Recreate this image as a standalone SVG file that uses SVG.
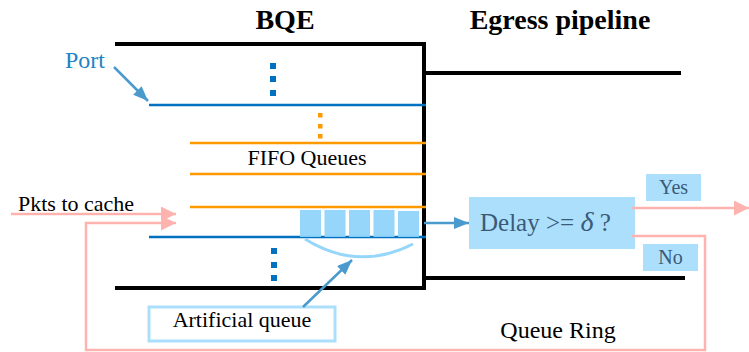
<svg xmlns="http://www.w3.org/2000/svg" width="749" height="352" viewBox="0 0 749 352">
  <style>
    text { font-family: "Liberation Serif", "Times New Roman", serif; }
    .title { font-size: 28px; font-weight: bold; fill: #000; text-anchor: middle; }
    .wall { stroke: #000; stroke-width: 4; fill: none; stroke-linecap: square; }
    .port { stroke: #0070C0; stroke-width: 2.5; fill: none; }
    .fifo { stroke: #FF9900; stroke-width: 2.5; fill: none; }
    .pink { stroke: #FFB3AE; stroke-width: 2.5; fill: none; }
    .pointer { stroke: #4A9ACD; stroke-width: 2.5; fill: none; }
    .pkt { fill: #8DD3FA; }
    .badge { fill: #ACDFFC; }
    .label { fill: #3A5A78; }
    .dot-blue { fill: #0070C0; }
    .dot-orange { fill: #FF9900; }
  </style>
  <defs>
    <marker id="head-pink" markerUnits="userSpaceOnUse" markerWidth="16" markerHeight="16" refX="15" refY="7.5" orient="auto">
      <path d="M0,0 L15,7.5 L0,15 Z" fill="#FFB3AE"/>
    </marker>
    <marker id="head-blue" markerUnits="userSpaceOnUse" markerWidth="16" markerHeight="14" refX="15" refY="6" orient="auto">
      <path d="M0,0 L15,6 L0,12 Z" fill="#4A9ACD"/>
    </marker>
  </defs>

  <!-- headings -->
  <text class="title" x="285" y="29">BQE</text>
  <text class="title" x="560" y="29">Egress pipeline</text>

  <!-- BQE enclosure and egress walls -->
  <g id="bqe-frame">
    <path class="wall" d="M117,44 H424 V288 H117"/>
    <line class="wall" x1="424" y1="73" x2="679" y2="73"/>
    <line class="wall" x1="424" y1="278" x2="683" y2="278"/>
  </g>

  <!-- port lines and queue lines -->
  <g id="port-lines">
    <line class="port" x1="149" y1="105" x2="426" y2="105"/>
    <line class="port" x1="149" y1="237" x2="426" y2="237"/>
    <rect class="dot-blue" x="270" y="63" width="6" height="6"/>
    <rect class="dot-blue" x="270" y="76" width="6" height="6"/>
    <rect class="dot-blue" x="270" y="90" width="6" height="6"/>
    <rect class="dot-blue" x="271" y="248" width="6" height="6"/>
    <rect class="dot-blue" x="271" y="262" width="6" height="6"/>
    <rect class="dot-blue" x="271" y="275" width="6" height="6"/>
  </g>

  <g id="fifo-queues">
    <line class="fifo" x1="190" y1="143" x2="426" y2="143"/>
    <line class="fifo" x1="190" y1="174" x2="426" y2="174"/>
    <line class="fifo" x1="190" y1="207" x2="426" y2="207"/>
    <rect class="dot-orange" x="318" y="113" width="4.5" height="4.5"/>
    <rect class="dot-orange" x="318" y="124" width="4.5" height="4.5"/>
    <rect class="dot-orange" x="318" y="134" width="4.5" height="4.5"/>
    <text x="307" y="165" font-size="22" text-anchor="middle" fill="#000">FIFO Queues</text>
  </g>

  <!-- packets waiting in the artificial queue -->
  <g id="artificial-queue-packets" opacity="0.92">
    <rect class="pkt" x="300" y="210" width="21" height="27"/>
    <rect class="pkt" x="324.5" y="210" width="21" height="27"/>
    <rect class="pkt" x="349" y="210" width="21" height="27"/>
    <rect class="pkt" x="373.5" y="210" width="21" height="27"/>
    <rect class="pkt" x="398" y="211" width="21" height="26"/>
    <path d="M305,239 Q358,272 413,244" stroke="#8DD3FA" stroke-width="3" fill="none"/>
  </g>

  <g id="port-label">
    <text x="65" y="68" font-size="24" fill="#2183C4">Port</text>
  </g>

  <g id="pkts-label">
    <text x="18" y="211" font-size="22" fill="#000">Pkts to cache</text>
  </g>

  <g id="artificial-queue-label">
    <rect x="149" y="307" width="186" height="34" fill="none" stroke="#ACDFFC" stroke-width="3"/>
    <text x="242" y="327" font-size="22" text-anchor="middle" fill="#000">Artificial queue</text>
  </g>

  <g id="delay-check">
    <rect class="badge" x="469" y="197" width="166" height="52"/>
    <text class="label" x="480" y="231" font-size="25">Delay &gt;= <tspan font-style="italic" font-size="28">δ</tspan> ?</text>
  </g>

  <g id="yes-label">
    <rect class="badge" x="646" y="174" width="55" height="27"/>
    <text class="label" x="673.5" y="194" font-size="20" text-anchor="middle">Yes</text>
  </g>

  <g id="no-label">
    <rect class="badge" x="643" y="244" width="55" height="27"/>
    <text class="label" x="670.5" y="264" font-size="20" text-anchor="middle">No</text>
  </g>

  <g id="queue-ring-label">
    <text x="558" y="338" font-size="24" text-anchor="middle" fill="#000">Queue Ring</text>
  </g>

  <!-- connectors -->
  <g id="connectors">
    <line class="pointer" x1="114" y1="67" x2="148" y2="101" marker-end="url(#head-blue)"/>
    <line class="pointer" x1="303" y1="307" x2="352" y2="260" marker-end="url(#head-blue)" stroke="#6BAED6"/>
    <line class="pointer" x1="424" y1="223" x2="469" y2="223" marker-end="url(#head-blue)"/>
    <line class="pink" x1="11" y1="214" x2="176" y2="214" marker-end="url(#head-pink)"/>
    <path class="pink" d="M632,236 H705 V350 H86 V223 H176" marker-end="url(#head-pink)"/>
    <line class="pink" x1="632" y1="208" x2="749" y2="208" marker-end="url(#head-pink)"/>
  </g>
</svg>
